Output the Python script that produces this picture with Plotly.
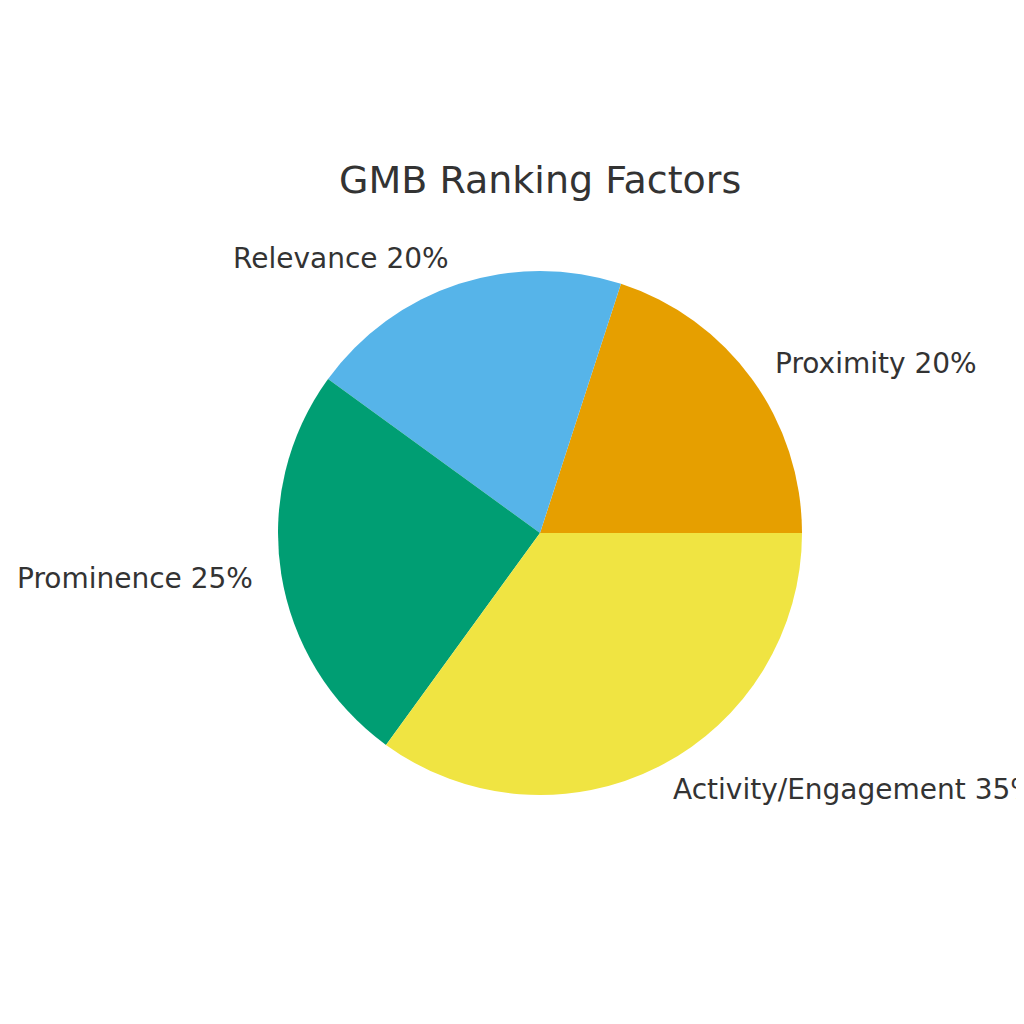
import math
import plotly.graph_objects as go

labels = ["Proximity", "Relevance", "Prominence", "Activity/Engagement"]
values = [20, 20, 25, 35]
colors = ["#E69F00", "#56B4E9", "#009E73", "#F0E442"]

# page body has an 8px margin, so the figure is 1016px and positions are shifted
OFF = 8
W = H = 1024 - OFF
cx, cy, r = 540 - OFF, 533 - OFF, 262  # pie centre / radius in pixels
font = "DejaVu Sans"
text_color = "#333333"

total = sum(values)
# plotly shifts the start by the first slice in counterclockwise mode
rotation = 90 - values[0] / total * 360

fig = go.Figure()
fig.add_trace(go.Pie(
    labels=labels,
    values=values,
    sort=False,
    direction="counterclockwise",
    rotation=rotation,
    marker=dict(colors=colors, line=dict(width=0)),
    textinfo="none",
    hoverinfo="label+percent",
    showlegend=False,
    domain=dict(x=[(cx - r) / W, (cx + r) / W],
                y=[1 - (cy + r) / H, 1 - (cy - r) / H]),
))

# matplotlib-style labels at 1.1 * radius, placed from the slice mid-angles
start = 0.0
annotations = []
for lab, v in zip(labels, values):
    mid = math.radians((start + v / 2) / total * 360)
    start += v
    x = cx + 1.1 * r * math.cos(mid)
    y = cy - 1.1 * r * math.sin(mid)
    annotations.append(dict(
        x=x / W, y=1 - y / H, xref="paper", yref="paper",
        text=f"{lab} {v / total * 100:.0f}%",
        showarrow=False,
        xanchor="left" if math.cos(mid) > 0 else "right",
        yanchor="middle",
        font=dict(family=font, size=28, color=text_color),
    ))

annotations.append(dict(
    x=cx / W, y=1 - (180 - OFF) / H, xref="paper", yref="paper",
    text="GMB Ranking Factors", showarrow=False,
    xanchor="center", yanchor="middle",
    font=dict(family=font, size=38, color=text_color),
))

fig.update_layout(
    width=W, height=H,
    margin=dict(l=0, r=0, t=0, b=0),
    paper_bgcolor="white",
    plot_bgcolor="white",
    annotations=annotations,
)

fig.write_html("out.html")
